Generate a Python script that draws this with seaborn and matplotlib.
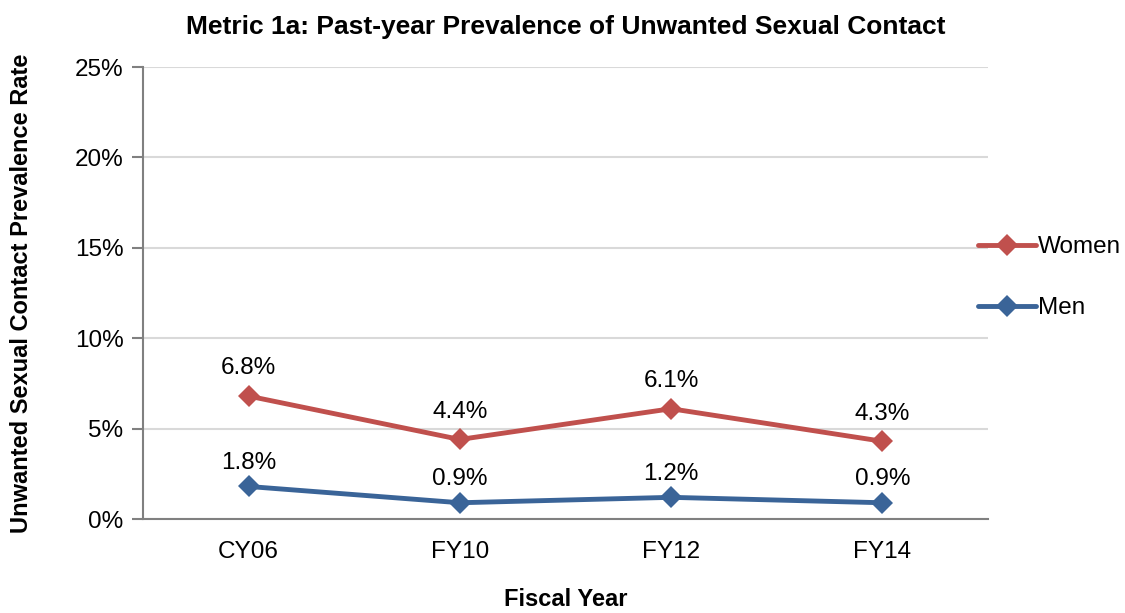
import matplotlib
matplotlib.use("Agg")
import matplotlib.pyplot as plt
from matplotlib import font_manager
import seaborn as sns
import pandas as pd

years = ["CY06", "FY10", "FY12", "FY14"]
women = [6.8, 4.4, 6.1, 4.3]
men = [1.8, 0.9, 1.2, 0.9]
yticks = [0, 5, 10, 15, 20, 25]

sns.set_theme(style="white")
names = {f.name for f in font_manager.fontManager.ttflist}
fam = "Liberation Sans Narrow" if "Liberation Sans Narrow" in names else "Liberation Sans"
plt.rcParams["font.family"] = [fam, "DejaVu Sans"]
plt.rcParams["text.color"] = "black"
plt.rcParams["axes.labelcolor"] = "black"
plt.rcParams["xtick.color"] = "black"
plt.rcParams["ytick.color"] = "black"

df = pd.DataFrame({
    "Fiscal Year": years * 2,
    "Rate": women + men,
    "Group": ["Women"] * 4 + ["Men"] * 4,
})

colors = {"Women": "#C0504D", "Men": "#3A6498"}

fig = plt.figure(figsize=(11.25, 6.13), dpi=100)
ax = fig.add_axes([0.1271, 0.1533, 0.7511, 0.7374])

sns.lineplot(data=df, x="Fiscal Year", y="Rate", hue="Group", palette=colors,
             marker="D", markersize=11, linewidth=3.5, markeredgewidth=0,
             ax=ax, sort=False)

ax.set_xlim(-0.5, 3.5)
ax.set_ylim(0, 25)
ax.set_yticks(yticks)
ax.set_yticklabels([f"{v}%" for v in yticks], fontsize=17.5)
ax.set_xticks(range(len(years)))
ax.set_xticklabels(years, fontsize=17.5)
ax.grid(axis="y", color="#D9D9D9", linewidth=1.5)
ax.set_axisbelow(True)
for s in ["top", "right"]:
    ax.spines[s].set_visible(False)
for s in ["left", "bottom"]:
    ax.spines[s].set_color("#808080")
    ax.spines[s].set_linewidth(1.5)
ax.tick_params(axis="y", which="major", left=True, length=8, width=1.5,
               color="#808080", labelcolor="black", pad=6)
ax.tick_params(axis="x", bottom=False, labelcolor="black", pad=10)

for i, (w, m) in enumerate(zip(women, men)):
    ax.annotate(f"{w}%", (i, w), xytext=(0, 20), textcoords="offset points",
                ha="center", va="center", fontsize=17.5, color="black")
    ax.annotate(f"{m}%", (i, m), xytext=(0, 17), textcoords="offset points",
                ha="center", va="center", fontsize=17.5, color="black")

ax.set_xlabel("Fiscal Year", fontsize=17, fontweight="bold", labelpad=18, color="black")
ax.set_ylabel("Unwanted Sexual Contact Prevalence Rate", fontsize=17,
              fontweight="bold", labelpad=30, color="black")
ax.set_title("Metric 1a: Past-year Prevalence of Unwanted Sexual Contact",
             fontsize=19, fontweight="bold", pad=24, color="black")

leg = ax.legend(loc="center left", bbox_to_anchor=(978 / 1125, 0.547),
                bbox_transform=fig.transFigure, frameon=False,
                fontsize=17.5, handlelength=2.4, labelspacing=1.6,
                handletextpad=0.05, borderpad=0, borderaxespad=0)
for t in leg.get_texts():
    t.set_color("black")

fig.savefig("out.png", dpi=100)
